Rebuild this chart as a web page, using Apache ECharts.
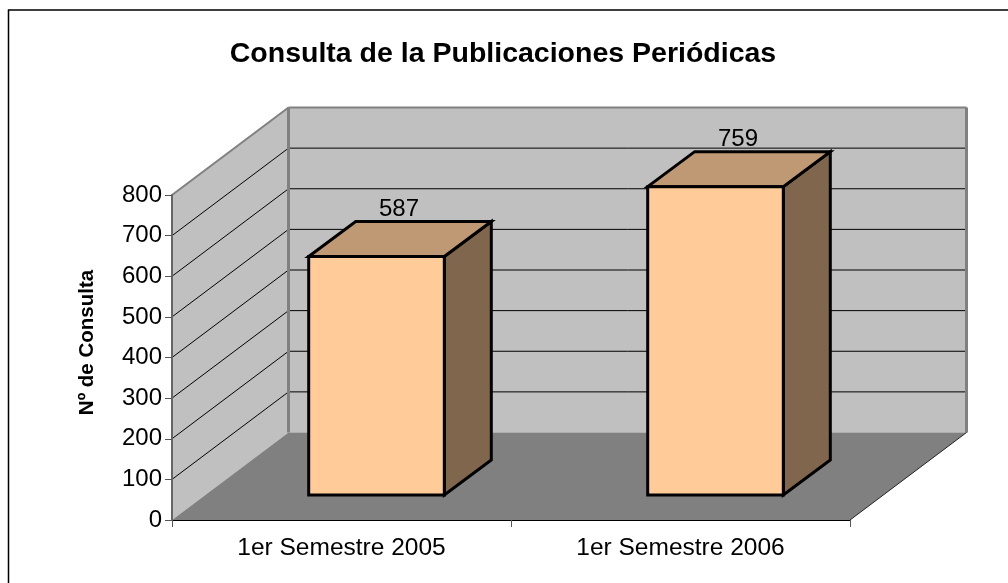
<!DOCTYPE html>
<html>
<head>
<meta charset="utf-8">
<title>Consulta de la Publicaciones Periódicas</title>
<script src="https://cdn.jsdelivr.net/npm/echarts@6/dist/echarts.min.js"></script>
<style>
    html, body { margin: 0; padding: 0; background: #fff; }
    #chart { width: 1008px; height: 583px; }
</style>
</head>
<body>
<div id="chart"></div>
<script>
const chartTitle = 'Consulta de la Publicaciones Periódicas';
const yAxisName = 'Nº de Consulta';
const categories = ['1er Semestre 2005', '1er Semestre 2006'];
const consultas = [587, 759];
const gridValues = [100, 200, 300, 400, 500, 600, 700];

// Profondeur de la perspective, en pixels
const wallDepth = [116.5, -87.5];
const barInset = [35, -25];
const barDepth = [47, -35];
const barShare = 0.4;

const fontFamily = '"Liberation Sans", Arial, sans-serif';

function shifted(point, offset) {
    return [point[0] + offset[0], point[1] + offset[1]];
}

function polygon(points, fill, stroke, lineWidth) {
    return {
        type: 'polygon',
        shape: { points: points },
        style: { fill: fill, stroke: stroke || 'none', lineWidth: lineWidth || 0, lineJoin: 'miter' }
    };
}

function line(a, b, stroke, lineWidth) {
    return {
        type: 'line',
        shape: { x1: a[0], y1: a[1], x2: b[0], y2: b[1] },
        style: { stroke: stroke, lineWidth: lineWidth }
    };
}

// Les quatre coins de la boîte, devant et derrière
function boxCorners(box) {
    const bottomLeft = [box.x, box.y + box.height];
    const topLeft = [box.x, box.y];
    const bottomRight = [box.x + box.width, box.y + box.height];
    const topRight = [box.x + box.width, box.y];
    return {
        bottomLeft, topLeft, bottomRight, topRight,
        backBottomLeft: shifted(bottomLeft, wallDepth),
        backTopLeft: shifted(topLeft, wallDepth),
        backBottomRight: shifted(bottomRight, wallDepth),
        backTopRight: shifted(topRight, wallDepth)
    };
}

// Murs et sol du graphique
function renderWalls(params, api) {
    const c = boxCorners(params.coordSys);
    return {
        type: 'group',
        children: [
            polygon([c.backTopLeft, c.backTopRight, c.backBottomRight, c.backBottomLeft], '#c0c0c0'),
            polygon([c.topLeft, c.backTopLeft, c.backBottomLeft, c.bottomLeft], '#c0c0c0'),
            polygon([c.bottomLeft, c.backBottomLeft, c.backBottomRight, c.bottomRight], '#808080')
        ]
    };
}

// Bordures des murs, par-dessus les lignes de grille
function renderWallEdges(params, api) {
    const c = boxCorners(params.coordSys);
    return {
        type: 'group',
        children: [
            line(c.topLeft, c.backTopLeft, '#808080', 2),
            line(c.backTopLeft, c.backTopRight, '#808080', 2),
            line(c.backTopLeft, c.backBottomLeft, '#808080', 3),
            line(c.backTopRight, c.backBottomRight, '#808080', 3),
            line(c.bottomRight, c.backBottomRight, '#222222', 1)
        ]
    };
}

// Lignes de grille sur le mur du fond et le mur de gauche
function renderGridLine(params, api) {
    const box = params.coordSys;
    const y = api.coord([0, api.value(0)])[1];
    const front = [box.x, y];
    const back = shifted(front, wallDepth);
    const end = [box.x + box.width + wallDepth[0], back[1]];
    return {
        type: 'group',
        children: [
            line(front, back, '#000000', 1),
            line(back, end, '#000000', 1)
        ]
    };
}

// Barre en 3D calculée à partir de l'échelle des axes
function renderBar(params, api) {
    const top = api.coord([api.value(0), api.value(1)]);
    const base = api.coord([api.value(0), 0]);
    const width = api.size([1, 0])[0] * barShare;
    const left = top[0] - width / 2 + barInset[0];
    const right = left + width;
    const frontTop = top[1] + barInset[1];
    const frontBottom = base[1] + barInset[1];
    const a = [left, frontTop];
    const b = [right, frontTop];
    const c = [right, frontBottom];
    const d = [left, frontBottom];
    const border = '#000000';
    return {
        type: 'group',
        children: [
            polygon([b, shifted(b, barDepth), shifted(c, barDepth), c], '#80664d', border, 3),
            polygon([a, shifted(a, barDepth), shifted(b, barDepth), b], '#bf9973', border, 3),
            polygon([a, b, c, d], '#ffcc99', border, 3),
            {
                type: 'text',
                style: {
                    text: api.value(1) + '',
                    x: (left + right + barDepth[0]) / 2 - 1,
                    y: frontTop + barDepth[1],
                    align: 'center',
                    verticalAlign: 'bottom',
                    fill: '#000000',
                    font: '24px ' + fontFamily
                }
            }
        ]
    };
}

const chart = echarts.init(document.getElementById('chart'), null, { renderer: 'canvas' });

chart.setOption({
    animation: false,
    backgroundColor: '#ffffff',
    title: {
        text: chartTitle,
        left: 498,
        top: 35,
        textAlign: 'center',
        textStyle: { color: '#000000', fontSize: 28.5, fontWeight: 'bold', fontFamily: fontFamily }
    },
    graphic: [{
        type: 'rect',
        silent: true,
        shape: { x: 8.5, y: 10, width: 1020, height: 600 },
        style: { fill: 'none', stroke: '#000000', lineWidth: 1.5 }
    }],
    grid: { left: 172, right: 158, top: 195, bottom: 63 },
    xAxis: {
        type: 'category',
        data: categories,
        z: 5,
        axisLine: { lineStyle: { color: '#000000', width: 1 } },
        axisTick: { show: true, alignWithLabel: false, length: 7, lineStyle: { color: '#555555' } },
        axisLabel: { color: '#000000', fontSize: 24.5, fontFamily: fontFamily, margin: 16 },
        splitLine: { show: false }
    },
    yAxis: {
        type: 'value',
        min: 0,
        max: 800,
        interval: 100,
        z: 5,
        name: yAxisName,
        nameLocation: 'middle',
        nameGap: 74,
        nameTextStyle: {
            color: '#000000',
            fontSize: 20.5,
            fontWeight: 'bold',
            fontFamily: fontFamily,
            padding: [0, 0, 0, 30]
        },
        axisLine: { show: true, lineStyle: { color: '#666666', width: 2 } },
        axisTick: { show: true, length: 7, lineStyle: { color: '#555555' } },
        axisLabel: { color: '#000000', fontSize: 24, fontFamily: fontFamily, margin: 10 },
        splitLine: { show: false }
    },
    series: [
        {
            type: 'custom',
            name: 'Murs',
            z: 1,
            silent: true,
            renderItem: renderWalls,
            data: [[0]]
        },
        {
            type: 'custom',
            name: 'Grille',
            z: 2,
            silent: true,
            renderItem: renderGridLine,
            encode: { y: 0 },
            data: gridValues.map(v => [v])
        },
        {
            type: 'custom',
            name: 'Bordures',
            z: 3,
            silent: true,
            renderItem: renderWallEdges,
            data: [[0]]
        },
        {
            type: 'custom',
            name: 'Consultas',
            z: 4,
            renderItem: renderBar,
            encode: { x: 0, y: 1 },
            data: consultas.map((v, i) => [i, v])
        }
    ]
});

window.addEventListener('resize', () => {
    chart.resize();
});
</script>
</body>
</html>
